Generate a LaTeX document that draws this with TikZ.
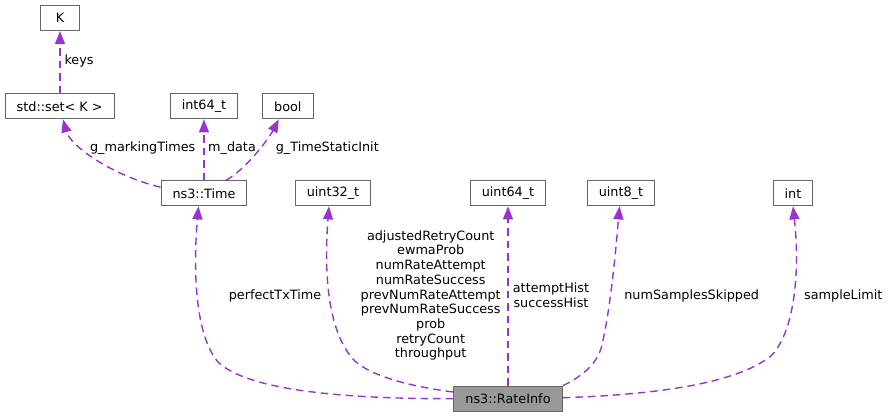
\documentclass[tikz,border=0pt]{standalone}
\usepackage{fontspec}
\setmainfont{DejaVu Sans}
\usetikzlibrary{arrows.meta,calc}
\definecolor{edgecol}{HTML}{9A32CD}
\definecolor{boxline}{HTML}{666666}
\definecolor{rifill}{HTML}{999999}
\begin{document}
\begin{tikzpicture}[x=1pt,y=-1pt,
  font=\fontsize{12.8}{14.7}\selectfont,
  box/.style={draw=boxline, line width=1.2pt, fill=white, minimum height=25pt, inner sep=0pt, anchor=center},
  rel/.style={draw=edgecol, line width=1.4pt, dash pattern=on 7.5pt off 5pt, -{Triangle[length=13pt,width=10pt]}},
  lbl/.style={inner sep=0pt, align=center}]
\useasboundingbox (0,0) rectangle (889,417);
% boxes
\node[box, minimum width=39pt] (k) at (60,18) {K};
\node[box, minimum width=109pt] (set) at (59.7,106.3) {std::set< K >};
\node[box, minimum width=67pt] (i64) at (204,106.3) {int64\_t};
\node[box, minimum width=51pt] (bool) at (287.8,106.3) {bool};
\node[box, minimum width=85.7pt] (time) at (204,193.3) {ns3::Time};
\node[box, minimum width=75pt] (u32) at (333,193.3) {uint32\_t};
\node[box, minimum width=75pt] (u64) at (508,193.3) {uint64\_t};
\node[box, minimum width=67.7pt] (u8) at (621,193.3) {uint8\_t};
\node[box, minimum width=39.4pt] (int) at (793,193.3) {int};
\node[box, fill=rifill, minimum width=108.7pt] (ri) at (508,398.7) {ns3::RateInfo};
% edges
\draw[rel] (set.north -| k.south) -- (k.south);
\draw[rel] (time.north) -- (i64.south);
\draw[rel] ($(time.north west)+(0,7)$) .. controls (110,175) and (70,145) .. ($(set.south)+(3.3,0)$);
\draw[rel] ($(time.north)+(22,0)$) .. controls (245,170) and (268,140) .. ($(bool.south)+(-9,0)$);
\draw[rel] (ri.west) .. controls (330,399) and (245,388) .. (218,362)
  .. controls (195,335) and (193,270) .. ($(time.south)+(-5.5,0)$);
\draw[rel] ($(ri.west)+(0,-6.7)$) .. controls (400,385) and (365,373) .. (352,358)
  .. controls (327,328) and (324,270) .. ($(u32.south)+(-4,0)$);
\draw[rel] (ri.north) -- (u64.south);
\draw[rel] (ri.north east) .. controls (585,375) and (598,362) .. (602,345)
  .. controls (610,310) and (615,260) .. ($(u8.south)+(-1.5,0)$);
\draw[rel] ($(ri.east)+(0,-1)$) .. controls (680,394) and (745,378) .. (772,355)
  .. controls (795,330) and (800,270) .. (int.south);
% labels
\node[lbl, anchor=west] (lkeys) at (64.3,61) {keys};
\node[lbl] (lmark) at (142.7,148.5) {g\_markingTimes};
\node[lbl] (ldata) at (232,148.5) {m\_data};
\node[lbl] (lstatic) at (327.3,148.5) {g\_TimeStaticInit};
\node[lbl] (lperf) at (275,296) {perfectTxTime};
\node[lbl] (lu32) at (430.7,295.5) {adjustedRetryCount\\ewmaProb\\numRateAttempt\\numRateSuccess\\prevNumRateAttempt\\prevNumRateSuccess\\prob\\retryCount\\throughput};
\node[lbl] (lu64) at (551,295.5) {attemptHist\\successHist};
\node[lbl] (lu8) at (691.7,296) {numSamplesSkipped};
\node[lbl] (lint) at (843.3,296) {sampleLimit};
\end{tikzpicture}
\end{document}
